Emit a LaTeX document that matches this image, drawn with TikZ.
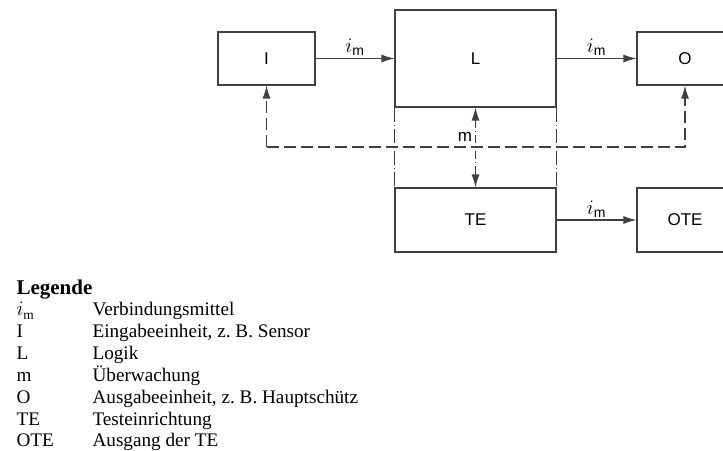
\documentclass[tikz,border=0pt]{standalone}
\usepackage{amsmath}
\usepackage{fontspec}
\setmainfont{Liberation Serif}
\setsansfont{Liberation Sans}
\usetikzlibrary{arrows.meta, calc}
\tikzset{every picture/.append style={line width=1.1pt}}

\begin{document}
\begin{tikzpicture}[x=1pt, y=1pt,
    block/.style={draw=black!75, minimum width=97pt, minimum height=53pt, inner sep=0pt,
                  font=\fontsize{17}{20}\sffamily},
    wire/.style={draw=black!75, -{Latex[length=13pt,width=8pt]}},
    fb/.style={wire, dash pattern=on 12pt off 5pt},
    mon/.style={draw=black!75, {Latex[length=13pt,width=8pt]}-{Latex[length=13pt,width=8pt]},
                dash pattern=on 8pt off 3pt on 1.5pt off 3pt},
    cut/.style={draw=black!75, dash pattern=on 14pt off 3pt on 1.5pt off 3pt},
    lbl/.style={font=\fontsize{20}{24}\selectfont},
    legend/.style={anchor=base west, inner sep=0pt, font=\fontsize{19.2}{22}\selectfont}]
    \useasboundingbox (0,0) rectangle (723,450);

    % Blocks
    \node[block] (I) at (266.5,391.5) {I};
    \node[block, minimum width=161pt, minimum height=97pt] (L) at (475.5,391.5) {L};
    \node[block, minimum width=96pt] (O) at (685,391.5) {O};
    \node[block, minimum width=161pt, minimum height=64pt] (TE) at (475.5,230) {TE};
    \node[block, minimum width=96pt, minimum height=64pt] (OTE) at (685,230) {OTE};

    % Sides of the monitoring zone
    \draw[cut] (L.south west) -- (TE.north west);
    \draw[cut] (L.south east) -- (TE.north east);

    % Connections
    \draw[wire] (I) -- node[lbl, midway, above, inner sep=2pt] (im1) {$i_\textsf{m}$} (L);
    \draw[wire] (L) -- node[lbl, midway, above, inner sep=2pt] (im2) {$i_\textsf{m}$} (O);
    \draw[wire] (TE) -- node[lbl, midway, above, inner sep=2pt] (im3) {$i_\textsf{m}$} (OTE);

    % Monitoring
    \draw[mon] (L.south) -- node[pos=0.37, left, inner sep=3pt, font=\fontsize{17}{20}\sffamily] (m) {m} (TE.north);
    \coordinate (back) at (266.5,303);
    \draw[fb] (back) -- (I.south);
    \draw[fb] (back) -| (O.south);

    % Legend
    \node[legend, font=\fontsize{21}{24}\bfseries] (leg) at (16,155) {Legende};
    \foreach \sym/\txt [count=\n] in {$i_\mathrm{m}$/Verbindungsmittel,
        I/{Eingabeeinheit, z.~B. Sensor}, L/Logik, m/Überwachung,
        O/{Ausgabeeinheit, z.~B. Hauptschütz}, TE/Testeinrichtung, OTE/Ausgang der TE} {
        \node[legend] (sym\n) at (16,{134-21.8*(\n-1)}) {\sym};
        \node[legend] (txt\n) at (92,{134-21.8*(\n-1)}) {\txt};
    }
\end{tikzpicture}
\end{document}
